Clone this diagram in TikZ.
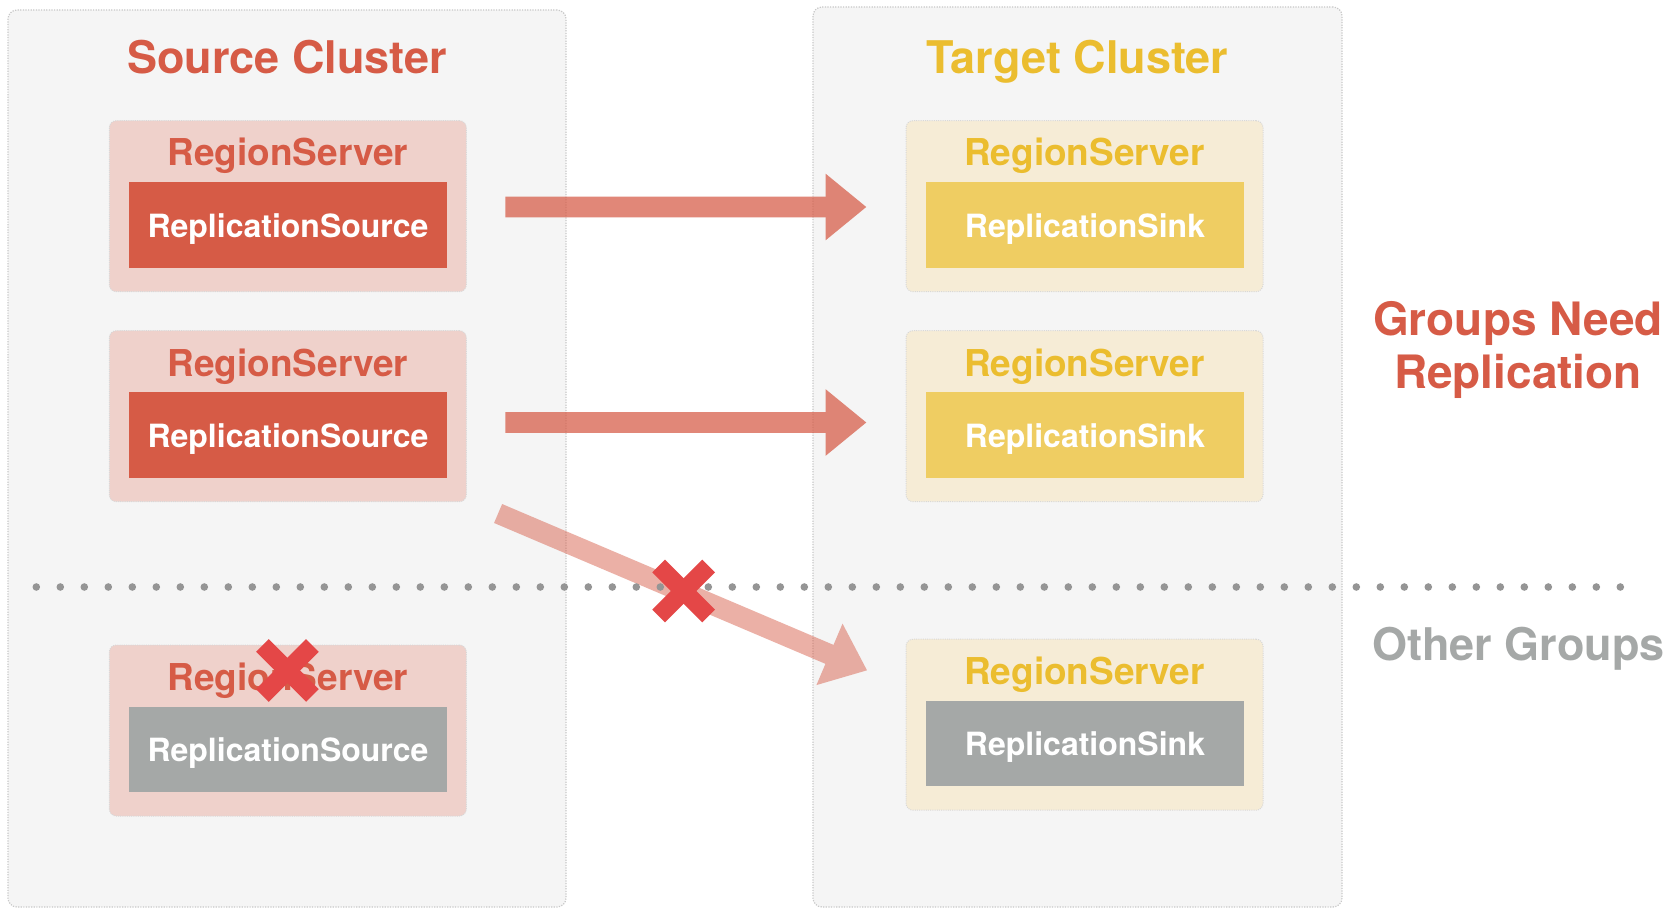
\documentclass[tikz,border=0pt]{standalone}
\usepackage{fontspec}
\setmainfont{TeX Gyre Heros}
\usetikzlibrary{arrows.meta}
\definecolor{redc}{HTML}{D65B46}
\definecolor{pinkc}{HTML}{EFD1CB}
\definecolor{creamc}{HTML}{F6ECD6}
\definecolor{goldc}{HTML}{EFCD62}
\definecolor{goldt}{HTML}{EBBD2F}
\definecolor{grayc}{HTML}{A5A8A7}
\definecolor{clusterbg}{HTML}{F5F5F5}
\definecolor{borderc}{HTML}{C8C8C8}
\definecolor{rsborder}{HTML}{D8D8D8}
\definecolor{dotc}{HTML}{959595}
\definecolor{xred}{HTML}{E44747}
\begin{document}
\begin{tikzpicture}[x=1pt,y=-1pt,
  cluster/.style={draw=borderc, line width=1.2pt, dash pattern=on 1.2pt off 1.4pt, fill=clusterbg, rounded corners=9pt, inner sep=0pt},
  rsbox/.style={draw=rsborder, line width=1pt, dash pattern=on 1pt off 1.2pt, rounded corners=7pt, minimum width=357pt, minimum height=171pt, inner sep=0pt},
  innerbox/.style={minimum width=318pt, minimum height=85.7pt, inner sep=0pt},
  ttl/.style={font=\fontsize{45}{50}\selectfont\bfseries, anchor=base, inner sep=0pt},
  rst/.style={font=\fontsize{37}{40}\selectfont\bfseries, anchor=base, inner sep=0pt},
  inn/.style={font=\fontsize{32}{36}\selectfont\bfseries, anchor=base, inner sep=0pt, text=white},
  bigarrow/.style={line width=20.6pt, draw=redc, -{Triangle[length=41pt,width=64pt]}},
  xmark/.style={line width=18pt, draw=xred}
]
\useasboundingbox[fill=white] (0,0) rectangle (1670,909);

% clusters
\node[cluster, minimum width=558pt, minimum height=897pt] (src) at (287,458.5) {};
\node[cluster, minimum width=529pt, minimum height=900pt] (tgt) at (1077.5,457) {};
\node[ttl, text=redc] (srct) at (287,74) {Source Cluster};
\node[ttl, text=goldt] (tgtt) at (1077.5,74) {Target Cluster};

% source region servers
\node[rsbox, fill=pinkc] (s1) at (287.8,206.2) {};
\node[rsbox, fill=pinkc] (s2) at (287.8,416.2) {};
\node[rsbox, fill=pinkc] (s3) at (287.8,730.5) {};
\foreach \n/\c in {s1/redc, s2/redc, s3/grayc}{
  \node[rst, text=redc] (\n t) at ([yshift=-45.8pt]\n.north) {RegionServer};
  \node[innerbox, fill=\c] (\n i) at ([xshift=0.2pt,yshift=-104.9pt]\n.north) {};
  \node[inn] (\n l) at ([yshift=-55pt]\n i.north) {ReplicationSource};
}

% target region servers
\node[rsbox, fill=creamc] (t1) at (1084.5,206.2) {};
\node[rsbox, fill=creamc] (t2) at (1084.5,416.2) {};
\node[rsbox, fill=creamc] (t3) at (1084.5,724.7) {};
\foreach \n/\c in {t1/goldc, t2/goldc, t3/grayc}{
  \node[rst, text=goldt] (\n t) at ([yshift=-45.8pt]\n.north) {RegionServer};
  \node[innerbox, fill=\c] (\n i) at ([xshift=0.5pt,yshift=-104.9pt]\n.north) {};
  \node[inn] (\n l) at ([yshift=-55pt]\n i.north) {ReplicationSink};
}

% side labels
\node[ttl, text=redc, font=\fontsize{46}{50}\selectfont\bfseries] (g1) at (1518,335) {Groups Need};
\node[ttl, text=redc, font=\fontsize{46}{50}\selectfont\bfseries] (g2) at (1518,388) {Replication};
\node[ttl, text=grayc] (og) at (1518.5,660) {Other Groups};

% arrows
\begin{scope}[transparency group, opacity=0.73]
  \draw[bigarrow] ([xshift=38.5pt,yshift=-0.8pt]s1.east) -- ([xshift=-39pt,yshift=-0.8pt]t1.west);
\end{scope}
\begin{scope}[transparency group, opacity=0.73]
  \draw[bigarrow] ([xshift=38.5pt,yshift=-6.3pt]s2.east) -- ([xshift=-39pt,yshift=-6.3pt]t2.west);
\end{scope}
\begin{scope}[transparency group, opacity=0.48]
  \draw[bigarrow] ([xshift=31.3pt,yshift=-11.3pt]s2.south east) -- ([xshift=-38.3pt,yshift=-31.7pt]t3.north west);
\end{scope}

% dotted separator
\foreach \i in {0,...,66}{
  \fill[dotc] (36.3+24*\i,587) circle[radius=3.8pt];
}

% crosses
\coordinate (x1) at (683.7,591);
\coordinate (x2) at (287.4,670.4);
\foreach \p in {x1,x2}{
  \draw[xmark] ([xshift=-25pt,yshift=25pt]\p) -- ([xshift=25pt,yshift=-25pt]\p);
  \draw[xmark] ([xshift=-25pt,yshift=-25pt]\p) -- ([xshift=25pt,yshift=25pt]\p);
}
\end{tikzpicture}
\end{document}
